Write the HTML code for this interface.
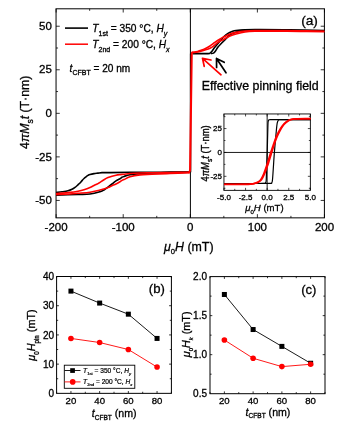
<!DOCTYPE html>
<html><head><meta charset="utf-8"><style>
html,body{margin:0;padding:0;background:#fff;width:342px;height:426px;overflow:hidden}
svg{display:block;filter:blur(0.35px)}
text{font-family:"Liberation Sans",sans-serif;stroke:#000;stroke-width:0.3px}
.sm text{stroke-width:0.2px}
</style></head><body>
<svg width="342" height="426" viewBox="0 0 342 426">
<rect width="342" height="426" fill="#fff"/>
<rect x="56.05" y="8.8" width="268.34999999999997" height="209.04999999999998" fill="none" stroke="#000" stroke-width="1.0"/>
<path d="M56.13 217.85v-3.7M56.13 8.8v3.7M89.67 217.85v-2M89.67 8.8v2M123.21 217.85v-3.7M123.21 8.8v3.7M156.76 217.85v-2M156.76 8.8v2M190.30 217.85v-3.7M190.30 8.8v3.7M223.84 217.85v-2M223.84 8.8v2M257.39 217.85v-3.7M257.39 8.8v3.7M290.93 217.85v-2M290.93 8.8v2M324.48 217.85v-3.7M324.48 8.8v3.7M56.05 200.43h3.7M324.4 200.43h-3.7M56.05 178.65h2M324.4 178.65h-2M56.05 156.88h3.7M324.4 156.88h-3.7M56.05 135.10h2M324.4 135.10h-2M56.05 113.33h3.7M324.4 113.33h-3.7M56.05 91.55h2M324.4 91.55h-2M56.05 69.77h3.7M324.4 69.77h-3.7M56.05 48.00h2M324.4 48.00h-2M56.05 26.22h3.7M324.4 26.22h-3.7" stroke="#000" stroke-width="0.8" fill="none"/>
<path d="M190.4 8.8V217.85" stroke="#000" stroke-width="1"/>
<g style="font-family:'Liberation Sans',sans-serif;font-size:11.5px" fill="#000"><text x="56.13" y="231.3" text-anchor="middle">-200</text><text x="123.21" y="231.3" text-anchor="middle">-100</text><text x="190.30" y="231.3" text-anchor="middle">0</text><text x="257.39" y="231.3" text-anchor="middle">100</text><text x="324.48" y="231.3" text-anchor="middle">200</text><text x="51.8" y="29.92" text-anchor="end">50</text><text x="51.8" y="73.47" text-anchor="end">25</text><text x="51.8" y="117.03" text-anchor="end">0</text><text x="51.8" y="160.58" text-anchor="end">-25</text><text x="51.8" y="204.13" text-anchor="end">-50</text></g>
<g>
<path d="M324.40 30.50 C318.67 30.40 300.73 30.05 290.00 29.90 C279.27 29.75 267.50 29.63 260.00 29.60 C252.50 29.57 249.00 29.55 245.00 29.70 C241.00 29.85 238.17 30.18 236.00 30.50 C233.83 30.82 233.33 31.12 232.00 31.60 C230.67 32.08 229.33 32.58 228.00 33.40 C226.67 34.22 225.33 35.22 224.00 36.50 C222.67 37.78 221.50 39.35 220.00 41.10 C218.50 42.85 216.33 45.32 215.00 47.00 C213.67 48.68 212.83 50.18 212.00 51.20 C211.17 52.22 210.67 52.70 210.00 53.10 C209.33 53.50 210.92 53.52 208.00 53.60 C205.08 53.68 195.08 53.60 192.50 53.60" fill="none" stroke="#000" stroke-width="1.6" stroke-linejoin="round"/>
<path d="M250.00 29.90 C248.67 30.02 244.00 30.32 242.00 30.60 C240.00 30.88 239.33 31.22 238.00 31.60 C236.67 31.98 235.33 32.37 234.00 32.90 C232.67 33.43 231.33 33.85 230.00 34.80 C228.67 35.75 227.33 37.27 226.00 38.60 C224.67 39.93 223.33 41.40 222.00 42.80 C220.67 44.20 219.08 45.63 218.00 47.00 C216.92 48.37 216.25 49.98 215.50 51.00 C214.75 52.02 214.25 52.67 213.50 53.10 C212.75 53.53 211.42 53.52 211.00 53.60" fill="none" stroke="#000" stroke-width="1.6" stroke-linejoin="round"/>
<path d="M190.00 172.00 C185.00 172.03 170.00 172.15 160.00 172.20 C150.00 172.25 138.33 172.23 130.00 172.30 C121.67 172.37 114.67 172.55 110.00 172.60 C105.33 172.65 104.00 172.52 102.00 172.60 C100.00 172.68 99.33 172.93 98.00 173.10 C96.67 173.27 95.33 173.37 94.00 173.60 C92.67 173.83 91.00 174.20 90.00 174.50 C89.00 174.80 88.67 175.02 88.00 175.40 C87.33 175.78 86.67 176.28 86.00 176.80 C85.33 177.32 84.67 177.87 84.00 178.50 C83.33 179.13 82.67 179.85 82.00 180.60 C81.33 181.35 80.67 182.30 80.00 183.00 C79.33 183.70 78.83 184.07 78.00 184.80 C77.17 185.53 76.00 186.65 75.00 187.40 C74.00 188.15 73.17 188.73 72.00 189.30 C70.83 189.87 69.67 190.38 68.00 190.80 C66.33 191.22 64.00 191.52 62.00 191.80 C60.00 192.08 57.00 192.38 56.00 192.50" fill="none" stroke="#000" stroke-width="1.6" stroke-linejoin="round"/>
<path d="M190.00 172.30 C183.67 172.42 160.33 172.78 152.00 173.00 C143.67 173.22 143.67 173.30 140.00 173.60 C136.33 173.90 132.67 174.33 130.00 174.80 C127.33 175.27 125.33 176.00 124.00 176.40 C122.67 176.80 122.67 176.82 122.00 177.20 C121.33 177.58 121.00 178.10 120.00 178.70 C119.00 179.30 117.33 179.92 116.00 180.80 C114.67 181.68 113.33 182.95 112.00 184.00 C110.67 185.05 109.33 186.10 108.00 187.10 C106.67 188.10 105.33 189.23 104.00 190.00 C102.67 190.77 102.33 191.03 100.00 191.70 C97.67 192.37 93.67 193.53 90.00 194.00 C86.33 194.47 83.67 194.32 78.00 194.50 C72.33 194.68 59.67 195.00 56.00 195.10" fill="none" stroke="#000" stroke-width="1.6" stroke-linejoin="round"/>
<path d="M190.6 53.6V172.3" stroke="#000" stroke-width="1.4"/>
<path d="M191.50 52.50 C192.25 52.38 194.58 52.12 196.00 51.80 C197.42 51.48 198.50 51.10 200.00 50.60 C201.50 50.10 203.33 49.57 205.00 48.80 C206.67 48.03 208.50 46.97 210.00 46.00 C211.50 45.03 212.67 43.97 214.00 43.00 C215.33 42.03 216.33 41.23 218.00 40.20 C219.67 39.17 222.00 37.83 224.00 36.80 C226.00 35.77 228.00 34.73 230.00 34.00 C232.00 33.27 233.50 32.90 236.00 32.40 C238.50 31.90 241.83 31.32 245.00 31.00 C248.17 30.68 250.83 30.58 255.00 30.50 C259.17 30.42 262.50 30.45 270.00 30.50 C277.50 30.55 290.93 30.68 300.00 30.80 C309.07 30.92 320.33 31.13 324.40 31.20" fill="none" stroke="#f00" stroke-width="1.6" stroke-linejoin="round"/>
<path d="M191.50 52.70 C192.25 52.62 194.58 52.42 196.00 52.20 C197.42 51.98 198.50 51.77 200.00 51.40 C201.50 51.03 203.33 50.53 205.00 50.00 C206.67 49.47 208.50 48.93 210.00 48.20 C211.50 47.47 212.67 46.58 214.00 45.60 C215.33 44.62 216.33 43.37 218.00 42.30 C219.67 41.23 222.00 40.25 224.00 39.20 C226.00 38.15 228.00 36.87 230.00 36.00 C232.00 35.13 233.50 34.67 236.00 34.00 C238.50 33.33 241.83 32.45 245.00 32.00 C248.17 31.55 250.83 31.45 255.00 31.30 C259.17 31.15 262.50 31.08 270.00 31.10 C277.50 31.12 290.93 31.32 300.00 31.40 C309.07 31.48 320.33 31.57 324.40 31.60" fill="none" stroke="#f00" stroke-width="1.6" stroke-linejoin="round"/>
<path d="M190.00 172.20 C186.67 172.25 176.33 172.40 170.00 172.50 C163.67 172.60 157.00 172.72 152.00 172.80 C147.00 172.88 143.67 172.88 140.00 173.00 C136.33 173.12 132.67 173.30 130.00 173.50 C127.33 173.70 125.67 174.02 124.00 174.20 C122.33 174.38 121.33 174.43 120.00 174.60 C118.67 174.77 117.33 174.93 116.00 175.20 C114.67 175.47 113.33 175.80 112.00 176.20 C110.67 176.60 109.33 177.02 108.00 177.60 C106.67 178.18 105.33 178.92 104.00 179.70 C102.67 180.48 101.00 181.65 100.00 182.30 C99.00 182.95 99.00 183.07 98.00 183.60 C97.00 184.13 95.33 184.83 94.00 185.50 C92.67 186.17 91.67 186.88 90.00 187.60 C88.33 188.32 86.00 189.20 84.00 189.80 C82.00 190.40 80.33 190.77 78.00 191.20 C75.67 191.63 73.67 192.00 70.00 192.40 C66.33 192.80 58.33 193.40 56.00 193.60" fill="none" stroke="#f00" stroke-width="1.6" stroke-linejoin="round"/>
<path d="M190.00 172.60 C186.67 172.75 176.33 173.22 170.00 173.50 C163.67 173.78 157.00 174.07 152.00 174.30 C147.00 174.53 143.67 174.48 140.00 174.90 C136.33 175.32 132.67 176.02 130.00 176.80 C127.33 177.58 125.33 179.00 124.00 179.60 C122.67 180.20 122.67 180.03 122.00 180.40 C121.33 180.77 121.00 181.20 120.00 181.80 C119.00 182.40 117.33 183.35 116.00 184.00 C114.67 184.65 113.33 185.12 112.00 185.70 C110.67 186.28 109.33 186.97 108.00 187.50 C106.67 188.03 105.33 188.48 104.00 188.90 C102.67 189.32 102.33 189.45 100.00 190.00 C97.67 190.55 93.67 191.65 90.00 192.20 C86.33 192.75 81.33 193.00 78.00 193.30 C74.67 193.60 73.67 193.78 70.00 194.00 C66.33 194.22 58.33 194.50 56.00 194.60" fill="none" stroke="#f00" stroke-width="1.6" stroke-linejoin="round"/>
<path d="M192.6 52.6C191.9 52.8 191.7 53.5 191.7 55L190.1 169.5C190.0 171.6 189.6 172.3 188.5 172.4" fill="none" stroke="#f00" stroke-width="2.1"/>
</g>
<path d="M65 28.1H88" stroke="#000" stroke-width="1.6"/>
<path d="M65 44.2H88" stroke="#f00" stroke-width="1.5"/>
<g style="font-family:'Liberation Sans',sans-serif;font-size:10.2px" fill="#000"><text x="92.3" y="32.0" style="font-family:'Liberation Sans',sans-serif;font-size:10.2px"><tspan font-style="italic">T</tspan><tspan font-size="7px" dy="3.50">1st</tspan><tspan dy="-3.50"> = 350 °C, </tspan><tspan font-style="italic">H</tspan><tspan font-style="italic" font-size="7px" dy="3.50">y</tspan></text><text x="92.3" y="48.2" style="font-family:'Liberation Sans',sans-serif;font-size:10.2px"><tspan font-style="italic">T</tspan><tspan font-size="7px" dy="3.50">2nd</tspan><tspan dy="-3.50"> = 200 °C, </tspan><tspan font-style="italic">H</tspan><tspan font-style="italic" font-size="7px" dy="3.50">x</tspan></text><text x="69.6" y="71.5" style="font-family:'Liberation Sans',sans-serif;font-size:10.1px"><tspan font-style="italic">t</tspan><tspan font-size="7px" dy="3.00">CFBT</tspan><tspan dy="-3.00"> = 20 nm</tspan></text></g>
<text x="301.2" y="24.8" style="font-family:'Liberation Sans',sans-serif;font-size:13.7px">(a)</text>
<text x="201.8" y="90.1" style="font-family:'Liberation Sans',sans-serif;font-size:12.4px">Effective pinning field</text>
<path d="M221 74.8L202.5 58.3M202.5 58.3L211 60M202.5 58.3L204.2 66.3" stroke="#f00" stroke-width="1.7" fill="none" stroke-linecap="round"/>
<path d="M226 72.8L216.5 58.5M216.5 58.5L224.2 62.3M216.5 58.5L216.6 67.5" stroke="#000" stroke-width="1.7" fill="none" stroke-linecap="round"/>
<text x="164" y="250.6" style="font-family:'Liberation Sans',sans-serif;font-size:12.4px"><tspan font-style="italic">μ</tspan><tspan font-size="7.6px" dy="3.50">0</tspan><tspan font-style="italic" dy="-3.50">H</tspan><tspan> (mT)</tspan></text>
<text transform="translate(28.7,112.3) rotate(-90)" text-anchor="middle" style="font-family:'Liberation Sans',sans-serif;font-size:12.3px"><tspan>4</tspan><tspan font-style="italic">π</tspan><tspan font-style="italic">M</tspan><tspan font-size="8.5px" dy="3.80">s</tspan><tspan font-style="italic" dy="-3.80">t</tspan><tspan> (T·nm)</tspan></text>
<rect x="223.95" y="113.95" width="86.40000000000003" height="76.39999999999999" fill="#fff" stroke="#000" stroke-width="0.9"/>
<path d="M223.95 190.35v-2.5M223.95 113.95v2.5M234.75 190.35v-1.5M234.75 113.95v1.5M245.55 190.35v-2.5M245.55 113.95v2.5M256.35 190.35v-1.5M256.35 113.95v1.5M267.15 190.35v-2.5M267.15 113.95v2.5M277.95 190.35v-1.5M277.95 113.95v1.5M288.75 190.35v-2.5M288.75 113.95v2.5M299.55 190.35v-1.5M299.55 113.95v1.5M310.35 190.35v-2.5M310.35 113.95v2.5M223.95 188.26h1.5M310.35 188.26h-1.5M223.95 176.32h2.5M310.35 176.32h-2.5M223.95 164.39h1.5M310.35 164.39h-1.5M223.95 152.45h2.5M310.35 152.45h-2.5M223.95 140.51h1.5M310.35 140.51h-1.5M223.95 128.57h2.5M310.35 128.57h-2.5M223.95 116.64h1.5M310.35 116.64h-1.5" stroke="#000" stroke-width="0.7" fill="none"/>
<path d="M223.95 152.45H310.35M267.15 113.95V190.35" stroke="#000" stroke-width="0.9"/>
<g style="font-family:'Liberation Sans',sans-serif;font-size:8px" fill="#000"><text x="223.95" y="199.8" text-anchor="middle">-5.0</text><text x="245.55" y="199.8" text-anchor="middle">-2.5</text><text x="267.15" y="199.8" text-anchor="middle">0.0</text><text x="288.75" y="199.8" text-anchor="middle">2.5</text><text x="310.35" y="199.8" text-anchor="middle">5.0</text><text x="222" y="131.17" text-anchor="end">25</text><text x="222" y="155.05" text-anchor="end">0</text><text x="222" y="178.92" text-anchor="end">-25</text></g>
<text x="245.2" y="211.3" style="font-family:'Liberation Sans',sans-serif;font-size:9.6px"><tspan font-style="italic">μ</tspan><tspan font-size="6px" dy="2.70">0</tspan><tspan font-style="italic" dy="-2.70">H</tspan><tspan> (mT)</tspan></text>
<text transform="translate(208.7,153.4) rotate(-90) scale(1,1.22)" text-anchor="middle" style="font-family:'Liberation Sans',sans-serif;font-size:9.45px"><tspan>4</tspan><tspan font-style="italic">π</tspan><tspan font-style="italic">M</tspan><tspan font-size="6.5px" dy="2.90">s</tspan><tspan font-style="italic" dy="-2.90">t</tspan><tspan> (T·nm)</tspan></text>
<g fill="none" stroke-linejoin="round">
<path d="M310.60 119.60 C307.17 119.60 296.43 119.60 290.00 119.60 C283.57 119.60 275.47 119.57 272.00 119.60 C268.53 119.63 269.82 119.57 269.20 119.80 C268.58 120.03 268.52 119.97 268.30 121.00 C268.08 122.03 268.08 120.78 267.90 126.00 C267.72 131.22 267.43 144.63 267.20 152.30 C266.97 159.97 266.67 167.30 266.50 172.00 C266.33 176.70 266.35 178.72 266.20 180.50 C266.05 182.28 265.97 182.22 265.60 182.70 C265.23 183.18 266.60 183.27 264.00 183.40 C261.40 183.53 256.67 183.47 250.00 183.50 C243.33 183.53 228.33 183.58 224.00 183.60" stroke="#000" stroke-width="1.2"/>
<path d="M224.00 183.60 C228.33 183.58 242.42 183.53 250.00 183.50 C257.58 183.47 265.90 183.52 269.50 183.40 C273.10 183.28 271.12 183.28 271.60 182.80 C272.08 182.32 272.13 182.63 272.40 180.50 C272.67 178.37 272.87 174.70 273.20 170.00 C273.53 165.30 273.90 158.63 274.40 152.30 C274.90 145.97 275.73 136.85 276.20 132.00 C276.67 127.15 276.85 125.15 277.20 123.20 C277.55 121.25 277.75 120.90 278.30 120.30 C278.85 119.70 277.72 119.72 280.50 119.60 C283.28 119.48 289.98 119.60 295.00 119.60 C300.02 119.60 308.00 119.60 310.60 119.60" stroke="#000" stroke-width="1.2"/>
<path d="M224.00 184.30 C227.50 184.28 240.50 184.27 245.00 184.20 C249.50 184.13 249.33 184.07 251.00 183.90 C252.67 183.73 253.83 183.52 255.00 183.20 C256.17 182.88 257.05 182.60 258.00 182.00 C258.95 181.40 259.77 180.93 260.70 179.60 C261.63 178.27 262.50 176.68 263.60 174.00 C264.70 171.32 266.20 166.83 267.30 163.50 C268.40 160.17 269.27 156.92 270.20 154.00 C271.13 151.08 272.02 148.58 272.90 146.00 C273.78 143.42 274.57 140.83 275.50 138.50 C276.43 136.17 277.42 134.03 278.50 132.00 C279.58 129.97 280.78 127.93 282.00 126.30 C283.22 124.67 284.38 123.32 285.80 122.20 C287.22 121.08 288.63 120.18 290.50 119.60 C292.37 119.02 293.65 118.87 297.00 118.70 C300.35 118.53 308.33 118.62 310.60 118.60" stroke="#f00" stroke-width="1.6"/>
<path d="M224.00 184.50 C227.50 184.48 240.50 184.47 245.00 184.40 C249.50 184.33 249.33 184.27 251.00 184.10 C252.67 183.93 253.75 183.72 255.00 183.40 C256.25 183.08 257.42 182.80 258.50 182.20 C259.58 181.60 260.52 181.13 261.50 179.80 C262.48 178.47 263.27 176.88 264.40 174.20 C265.53 171.52 267.17 167.03 268.30 163.70 C269.43 160.37 270.30 157.12 271.20 154.20 C272.10 151.28 272.85 148.78 273.70 146.20 C274.55 143.62 275.37 141.03 276.30 138.70 C277.23 136.37 278.27 134.23 279.30 132.20 C280.33 130.17 281.33 128.13 282.50 126.50 C283.67 124.87 284.97 123.52 286.30 122.40 C287.63 121.28 288.72 120.38 290.50 119.80 C292.28 119.22 293.65 119.07 297.00 118.90 C300.35 118.73 308.33 118.82 310.60 118.80" stroke="#f00" stroke-width="1.6"/>
</g>
<rect x="56.6" y="276.5" width="114.80000000000001" height="116.85000000000002" fill="none" stroke="#000" stroke-width="1.0"/>
<path d="M56.60 393.35v-1.6M56.60 276.5v1.6M70.95 393.35v-2.3M70.95 276.5v2.3M85.30 393.35v-1.6M85.30 276.5v1.6M99.65 393.35v-2.3M99.65 276.5v2.3M114.00 393.35v-1.6M114.00 276.5v1.6M128.35 393.35v-2.3M128.35 276.5v2.3M142.70 393.35v-1.6M142.70 276.5v1.6M157.05 393.35v-2.3M157.05 276.5v2.3M171.40 393.35v-1.6M171.40 276.5v1.6M56.6 378.74h1.6M171.4 378.74h-1.6M56.6 364.14h2.3M171.4 364.14h-2.3M56.6 349.53h1.6M171.4 349.53h-1.6M56.6 334.93h2.3M171.4 334.93h-2.3M56.6 320.32h1.6M171.4 320.32h-1.6M56.6 305.71h2.3M171.4 305.71h-2.3M56.6 291.11h1.6M171.4 291.11h-1.6" stroke="#000" stroke-width="0.8" fill="none"/>
<g style="font-family:'Liberation Sans',sans-serif;font-size:10px" fill="#000"><text x="70.95" y="403.9" text-anchor="middle" font-size="9.6px">20</text><text x="99.65" y="403.9" text-anchor="middle" font-size="9.6px">40</text><text x="128.35" y="403.9" text-anchor="middle" font-size="9.6px">60</text><text x="157.05" y="403.9" text-anchor="middle" font-size="9.6px">80</text><text x="54.1" y="396.95" text-anchor="end">0</text><text x="54.1" y="367.74" text-anchor="end">10</text><text x="54.1" y="338.53" text-anchor="end">20</text><text x="54.1" y="309.31" text-anchor="end">30</text><text x="54.1" y="280.10" text-anchor="end">40</text></g>
<path d="M70.95 291.11 L99.65 303.08 L128.35 314.18 L157.05 338.43" stroke="#000" stroke-width="0.9" fill="none"/>
<path d="M70.95 338.43 L99.65 342.52 L128.35 349.53 L157.05 367.06" stroke="#f00" stroke-width="0.9" fill="none"/>
<rect x="68.45" y="288.61" width="5" height="5" fill="#000"/>
<rect x="97.15" y="300.58" width="5" height="5" fill="#000"/>
<rect x="125.85" y="311.68" width="5" height="5" fill="#000"/>
<rect x="154.55" y="335.93" width="5" height="5" fill="#000"/>
<circle cx="70.95" cy="338.43" r="2.8" fill="#f00"/>
<circle cx="99.65" cy="342.52" r="2.8" fill="#f00"/>
<circle cx="128.35" cy="349.53" r="2.8" fill="#f00"/>
<circle cx="157.05" cy="367.06" r="2.8" fill="#f00"/>
<rect x="64.3" y="365.2" width="70.5" height="23.1" fill="#fff" stroke="#000" stroke-width="0.9"/>
<path d="M64.5 370.5H80.5" stroke="#000" stroke-width="0.9"/><rect x="70.2" y="368.2" width="4.7" height="4.7" fill="#000"/>
<path d="M64.5 381.9H80.5" stroke="#f00" stroke-width="0.9"/><circle cx="72.7" cy="381.9" r="2.8" fill="#f00"/>
<g class="sm" fill="#000"><text x="83.1" y="372.8" style="font-family:'Liberation Sans',sans-serif;font-size:6.6px"><tspan font-style="italic">T</tspan><tspan font-size="4.2px" dy="2.00">1st</tspan><tspan dy="-2.00"> = 350 °C, </tspan><tspan font-style="italic">H</tspan><tspan font-style="italic" font-size="4.2px" dy="2.00">y</tspan></text><text x="83.1" y="384.2" style="font-family:'Liberation Sans',sans-serif;font-size:6.6px"><tspan font-style="italic">T</tspan><tspan font-size="4.2px" dy="2.00">2nd</tspan><tspan dy="-2.00"> = 200 °C, </tspan><tspan font-style="italic">H</tspan><tspan font-style="italic" font-size="4.2px" dy="2.00">x</tspan></text></g>
<text x="148.8" y="292.8" style="font-family:'Liberation Sans',sans-serif;font-size:13.1px">(b)</text>
<text x="91.7" y="417.2" style="font-family:'Liberation Sans',sans-serif;font-size:10.6px"><tspan font-style="italic">t</tspan><tspan font-size="6.6px" dy="2.60">CFBT</tspan><tspan dy="-2.60"> (nm)</tspan></text>
<text transform="translate(35.0,335.0) rotate(-90) scale(1,1.07)" text-anchor="middle" style="font-family:'Liberation Sans',sans-serif;font-size:10.85px"><tspan font-style="italic">μ</tspan><tspan font-size="6.2px" dy="3.30">0</tspan><tspan font-style="italic" dy="-3.30">H</tspan><tspan font-size="6.2px" dy="3.30">pin</tspan><tspan dy="-3.30"> (mT)</tspan></text>
<rect x="210.0" y="276.6" width="115.0" height="117.09999999999997" fill="none" stroke="#000" stroke-width="1.0"/>
<path d="M210.00 393.7v-1.6M210.00 276.6v1.6M224.38 393.7v-2.3M224.38 276.6v2.3M238.75 393.7v-1.6M238.75 276.6v1.6M253.12 393.7v-2.3M253.12 276.6v2.3M267.50 393.7v-1.6M267.50 276.6v1.6M281.88 393.7v-2.3M281.88 276.6v2.3M296.25 393.7v-1.6M296.25 276.6v1.6M310.62 393.7v-2.3M310.62 276.6v2.3M325.00 393.7v-1.6M325.00 276.6v1.6M210.0 374.18h1.6M325.0 374.18h-1.6M210.0 354.67h2.3M325.0 354.67h-2.3M210.0 335.15h1.6M325.0 335.15h-1.6M210.0 315.63h2.3M325.0 315.63h-2.3M210.0 296.12h1.6M325.0 296.12h-1.6" stroke="#000" stroke-width="0.8" fill="none"/>
<g style="font-family:'Liberation Sans',sans-serif;font-size:10px" fill="#000"><text x="224.38" y="403.9" text-anchor="middle" font-size="9.6px">20</text><text x="253.12" y="403.9" text-anchor="middle" font-size="9.6px">40</text><text x="281.88" y="403.9" text-anchor="middle" font-size="9.6px">60</text><text x="310.62" y="403.9" text-anchor="middle" font-size="9.6px">80</text><text x="207" y="397.30" text-anchor="end">0.5</text><text x="207" y="358.27" text-anchor="end">1.0</text><text x="207" y="319.23" text-anchor="end">1.5</text><text x="207" y="280.20" text-anchor="end">2.0</text></g>
<path d="M224.38 294.48 L253.12 329.53 L281.88 346.39 L310.62 363.25" stroke="#000" stroke-width="0.9" fill="none"/>
<path d="M224.38 339.99 L253.12 358.26 L281.88 366.61 L310.62 364.27" stroke="#f00" stroke-width="0.9" fill="none"/>
<rect x="221.88" y="291.98" width="5" height="5" fill="#000"/>
<rect x="250.62" y="327.03" width="5" height="5" fill="#000"/>
<rect x="279.38" y="343.89" width="5" height="5" fill="#000"/>
<rect x="308.12" y="360.75" width="5" height="5" fill="#000"/>
<circle cx="224.38" cy="339.99" r="2.8" fill="#f00"/>
<circle cx="253.12" cy="358.26" r="2.8" fill="#f00"/>
<circle cx="281.88" cy="366.61" r="2.8" fill="#f00"/>
<circle cx="310.62" cy="364.27" r="2.8" fill="#f00"/>
<text x="301.2" y="293.6" style="font-family:'Liberation Sans',sans-serif;font-size:13.1px">(c)</text>
<text x="245.5" y="415.5" style="font-family:'Liberation Sans',sans-serif;font-size:10.6px"><tspan font-style="italic">t</tspan><tspan font-size="6.6px" dy="2.60">CFBT</tspan><tspan dy="-2.60"> (nm)</tspan></text>
<text transform="translate(189.7,334.3) rotate(-90)" text-anchor="middle" style="font-family:'Liberation Sans',sans-serif;font-size:10.85px"><tspan font-style="italic">μ</tspan><tspan font-size="5.8px" dy="3.60">0</tspan><tspan font-style="italic" dy="-3.60">H</tspan><tspan font-style="italic" font-size="5.8px" dy="3.60">k</tspan><tspan dy="-3.60"> (mT)</tspan></text>
</svg>
</body></html>
